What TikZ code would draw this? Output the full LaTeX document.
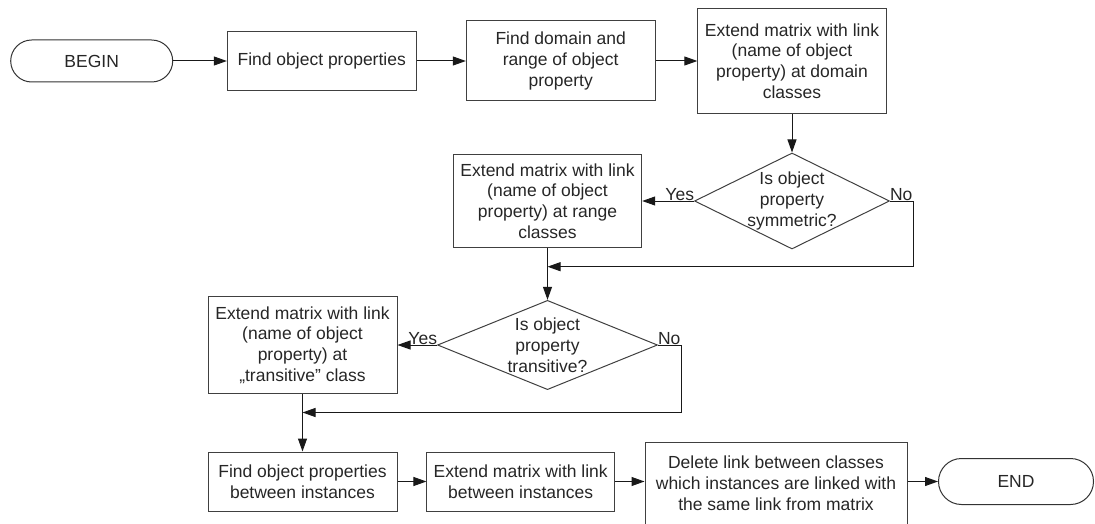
\documentclass[tikz,border=0pt]{standalone}
\usepackage{fontspec}
\setmainfont{Liberation Sans}
\usetikzlibrary{arrows.meta,shapes.geometric}
\begin{document}
\begin{tikzpicture}[x=1pt,y=-1pt,
  every node/.style={font=\fontsize{17.5}{20.8}\selectfont, text=black!85},
  proc/.style={draw=black!75, line width=1pt, rectangle, align=center, inner sep=0pt},
  term/.style={draw=black!80, line width=1pt, rectangle, inner sep=0pt},
  dia/.style={draw=black!75, line width=1pt, diamond, inner sep=0pt},
  diatext/.style={align=center, inner sep=0pt},
  lbl/.style={inner sep=0pt, outer sep=0pt},
  flow/.style={draw=black!90, line width=1pt, -{Triangle[length=13pt,width=9pt]}},
  seg/.style={draw=black!90, line width=1pt}
]
\useasboundingbox (0,0) rectangle (1095,524);

% first row
\node[term, rounded corners=21pt, minimum width=162pt, minimum height=42pt] (begin) at (91.7,61) {BEGIN};
\node[proc, minimum width=188.7pt, minimum height=58.7pt] (box1) at (321.7,61) {Find object properties};
\node[proc, minimum width=188.7pt, minimum height=80pt] (box2) at (560.7,61) {Find domain and\\range of object\\property};
\node[proc, minimum width=188.3pt, minimum height=104.6pt] (box3) at (792,61) {Extend matrix with link\\(name of object\\property) at domain\\classes};

% symmetric decision
\node[dia, minimum width=195pt, minimum height=96pt] (d1) at (792,201) {};
\node[diatext] (d1t) at (d1) {Is object\\property\\symmetric?};
\node[proc, minimum width=188.4pt, minimum height=93.6pt] (box4) at (547.5,201) {Extend matrix with link\\(name of object\\property) at range\\classes};

% transitive decision
\node[dia, minimum width=220pt, minimum height=89.3pt] (d2) at (547.5,345) {};
\node[diatext] (d2t) at (d2) {Is object\\property\\transitive?};
\node[proc, minimum width=189pt, minimum height=97.6pt] (box5) at (302.5,345) {Extend matrix with link\\(name of object\\property) at\\„transitive” class};

% last row
\node[proc, minimum width=189pt, minimum height=59pt] (box6) at (302.5,481.5) {Find object properties\\between instances};
\node[proc, minimum width=187.5pt, minimum height=59pt] (box7) at (520.7,481.5) {Extend matrix with link\\between instances};
\node[proc, minimum width=262pt, minimum height=82pt] (box8) at (776,483) {Delete link between classes\\which instances are linked with\\the same link from matrix};
\node[term, rounded corners=23pt, minimum width=155pt, minimum height=46pt] (end) at (1016,481.5) {END};

% connectors
\draw[flow] (begin) -- (box1);
\draw[flow] (box1) -- (box2);
\draw[flow] (box2) -- (box3);
\draw[flow] (box3) -- (d1);
\draw[flow] (d1.west) -- (box4.east);
\node[lbl, anchor=base east] (yes1) at ([yshift=1pt]d1.west) {Yes};
\node[lbl, anchor=base west] (no1) at ([yshift=1pt]d1.east) {No};
\coordinate (c1) at (913.3,266.7);
\coordinate (m1) at (box4.south |- c1);
\draw[flow] (d1.east) -| (c1) -- (m1);
\draw[flow] (box4) -- (d2);

\draw[flow] (d2.west) -- (box5.east);
\node[lbl, anchor=base east] (yes2) at ([yshift=1pt]d2.west) {Yes};
\node[lbl, anchor=base west] (no2) at ([yshift=1pt]d2.east) {No};
\coordinate (c2) at (681.7,412.5);
\coordinate (m2) at (box5.south |- c2);
\draw[flow] (d2.east) -| (c2) -- (m2);
\draw[flow] (box5) -- (box6);

\draw[flow] (box6) -- (box7);
\draw[flow] (box7.east) -- (box8.west |- box7.east);
\draw[flow] (box8.east |- end.west) -- (end.west);
\end{tikzpicture}
\end{document}
